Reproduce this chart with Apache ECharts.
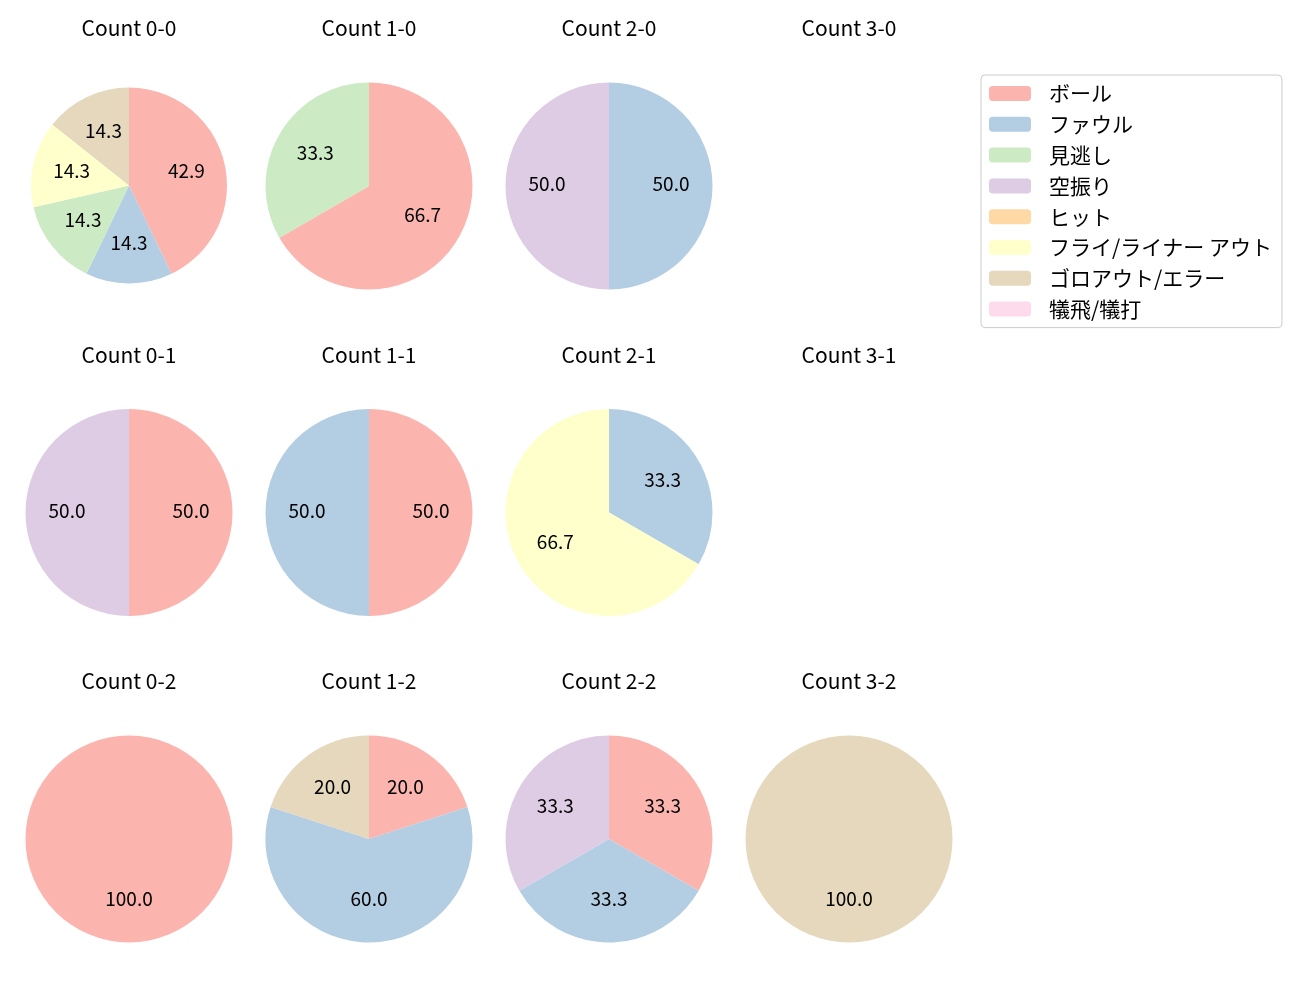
<!DOCTYPE html>
<html>
<head>
<meta charset="utf-8">
<script src="https://cdn.jsdelivr.net/npm/echarts@6/dist/echarts.min.js"></script>
<style>
html,body{margin:0;padding:0;background:#fff;}
#chart{width:1300px;height:1000px;}
</style>
</head>
<body>
<div id="chart"></div>
<script>
const categories = ['ボール', 'ファウル', '見逃し', '空振り', 'ヒット', 'フライ/ライナー アウト', 'ゴロアウト/エラー', '犠飛/犠打'];
const colors = ['#fbb4ae', '#b3cde3', '#ccebc5', '#decbe4', '#fed9a6', '#ffffcc', '#e5d8bd', '#fddaec'];
const countTitles = ['Count 0-0', 'Count 1-0', 'Count 2-0', 'Count 3-0',
                     'Count 0-1', 'Count 1-1', 'Count 2-1', 'Count 3-1',
                     'Count 0-2', 'Count 1-2', 'Count 2-2', 'Count 3-2'];
const count00 = [3, 1, 1, 0, 0, 1, 1, 0];
const count10 = [2, 0, 1, 0, 0, 0, 0, 0];
const count20 = [0, 1, 0, 1, 0, 0, 0, 0];
const count30 = [0, 0, 0, 0, 0, 0, 0, 0];
const count01 = [1, 0, 0, 1, 0, 0, 0, 0];
const count11 = [1, 1, 0, 0, 0, 0, 0, 0];
const count21 = [0, 1, 0, 0, 0, 2, 0, 0];
const count31 = [0, 0, 0, 0, 0, 0, 0, 0];
const count02 = [1, 0, 0, 0, 0, 0, 0, 0];
const count12 = [1, 3, 0, 0, 0, 0, 1, 0];
const count22 = [1, 1, 0, 1, 0, 0, 0, 0];
const count32 = [0, 0, 0, 0, 0, 0, 1, 0];
const countValues = [count00, count10, count20, count30, count01, count11, count21, count31, count02, count12, count22, count32];

const FONT = '"Noto Sans CJK JP", "Noto Sans", sans-serif';
const colX = [129, 369, 609, 849];
const rowY = [186, 512.5, 839];
const titleY = [29, 356, 682];
const R = 103.5;

const titles = [];
const series = [];
countValues.forEach((vals, i) => {
  const col = i % 4, row = Math.floor(i / 4);
  const cx = colX[col], cy = rowY[row];
  titles.push({
    text: countTitles[i], left: cx, top: titleY[row] - 1, textAlign: 'center', textVerticalAlign: 'middle',
    padding: 0,
    textStyle: {fontFamily: FONT, fontSize: 21, fontWeight: 'normal', color: '#000'}
  });
  const total = vals.reduce((a, b) => a + b, 0);
  if (total === 0) return;
  const r = (i === 0) ? 98 : R;
  const cyy = (i === 0) ? 185.5 : cy;
  series.push({
    type: 'pie', center: [cx, cyy], radius: [0, r], startAngle: 90, clockwise: true,
    label: {show: false}, labelLine: {show: false}, silent: true, animation: false,
    itemStyle: {borderWidth: 0},
    data: categories.map((c, k) => ({name: c, value: vals[k], itemStyle: {color: colors[k]}}))
  });
  series.push({
    type: 'pie', center: [cx, cyy], radius: [0.14 * r, r], startAngle: 90, clockwise: true,
    silent: true, animation: false, labelLine: {show: false},
    itemStyle: {color: 'rgba(0,0,0,0)'},
    label: {show: true, position: 'inside', fontFamily: FONT, fontSize: 19, color: '#000',
      offset: [0, -2],
      formatter: p => (p.value / total * 100).toFixed(1)},
    data: categories.map((c, k) => ({name: c + ' ', value: vals[k]})).filter(d => d.value > 0)
  });
});

const chart = echarts.init(document.getElementById('chart'), null, {renderer: 'canvas'});
chart.setOption({
  animation: false,
  title: titles,
  legend: {
    orient: 'vertical', left: 981, top: 75,
    data: categories.map((c, k) => ({name: c, itemStyle: {color: colors[k]}})),
    itemWidth: 42, itemHeight: 15, itemGap: 9.8,
    padding: [8, 10, 8, 8],
    borderColor: '#cccccc', borderWidth: 1, borderRadius: 4, backgroundColor: '#fff',
    textStyle: {fontFamily: FONT, fontSize: 21, color: '#000', padding: [0, 0, 0, 13]},
    selectedMode: false
  },
  series: series
});
</script>
</body>
</html>
